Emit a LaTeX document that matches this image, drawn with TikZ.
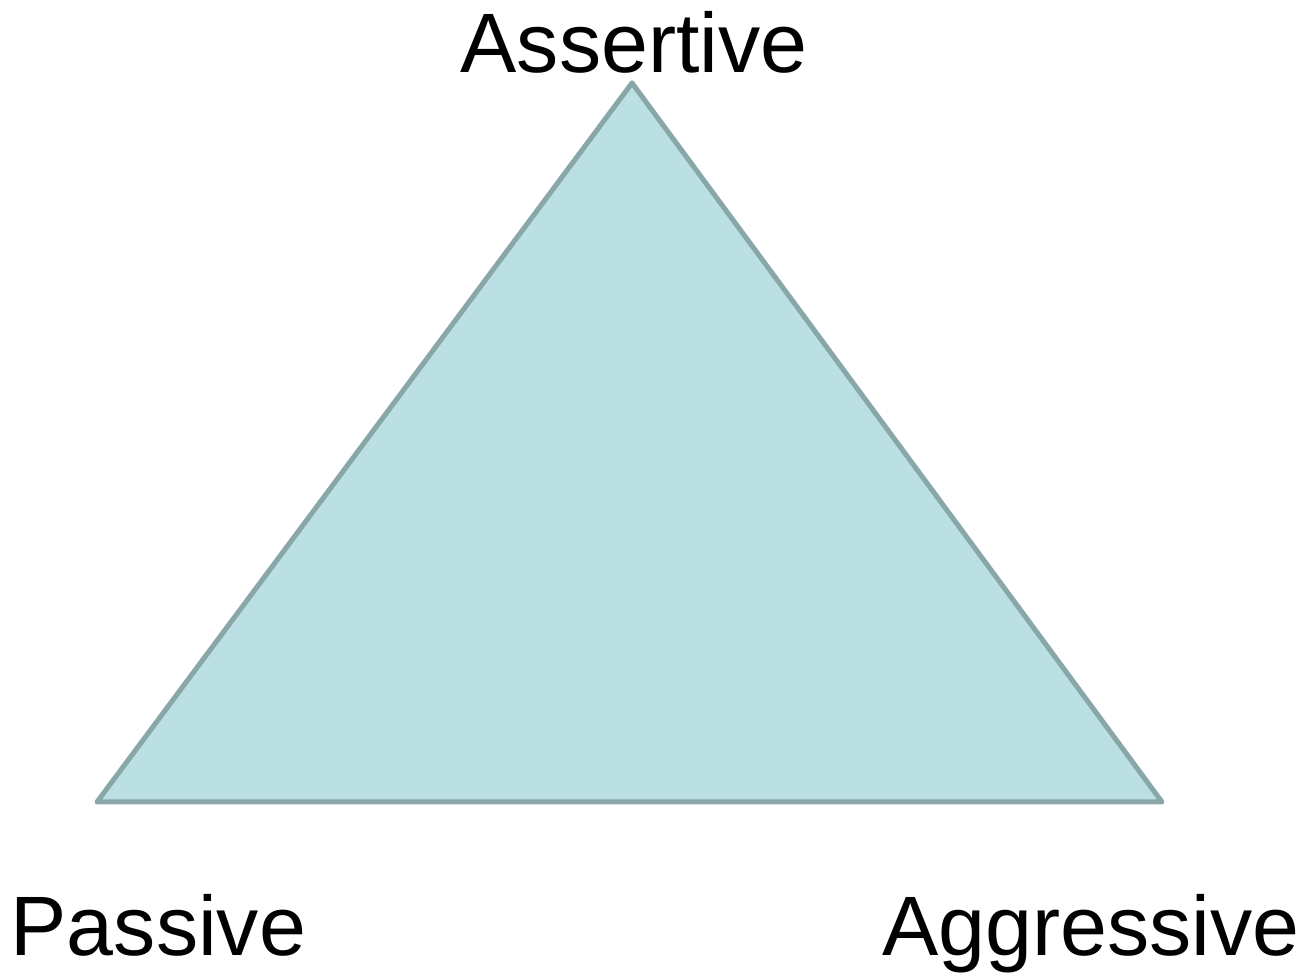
\documentclass[tikz,border=0pt]{standalone}
\usepackage{fontspec}
\setmainfont{Liberation Sans}
\definecolor{trifill}{HTML}{BBE0E3}
\definecolor{triline}{HTML}{89A6A8}
\begin{document}
\begin{tikzpicture}[label/.style={font=\fontsize{24}{28}\selectfont, inner sep=0pt}]
\useasboundingbox (0,0) rectangle (13.10,9.76);
\coordinate (top) at (6.32,8.93);
\coordinate (left) at (0.97,1.74);
\coordinate (right) at (11.62,1.74);
\draw[line width=0.05cm, line join=round, draw=triline, fill=trifill] (top) -- (right) -- (left) -- cycle;
\node[label, anchor=base] (assertive) at (6.34,9.03) {Assertive};
\node[label, anchor=base west] (passive) at (0.10,0.20) {Passive};
\node[label, anchor=base east] (aggressive) at (13.00,0.20) {Aggressive};
\end{tikzpicture}
\end{document}
